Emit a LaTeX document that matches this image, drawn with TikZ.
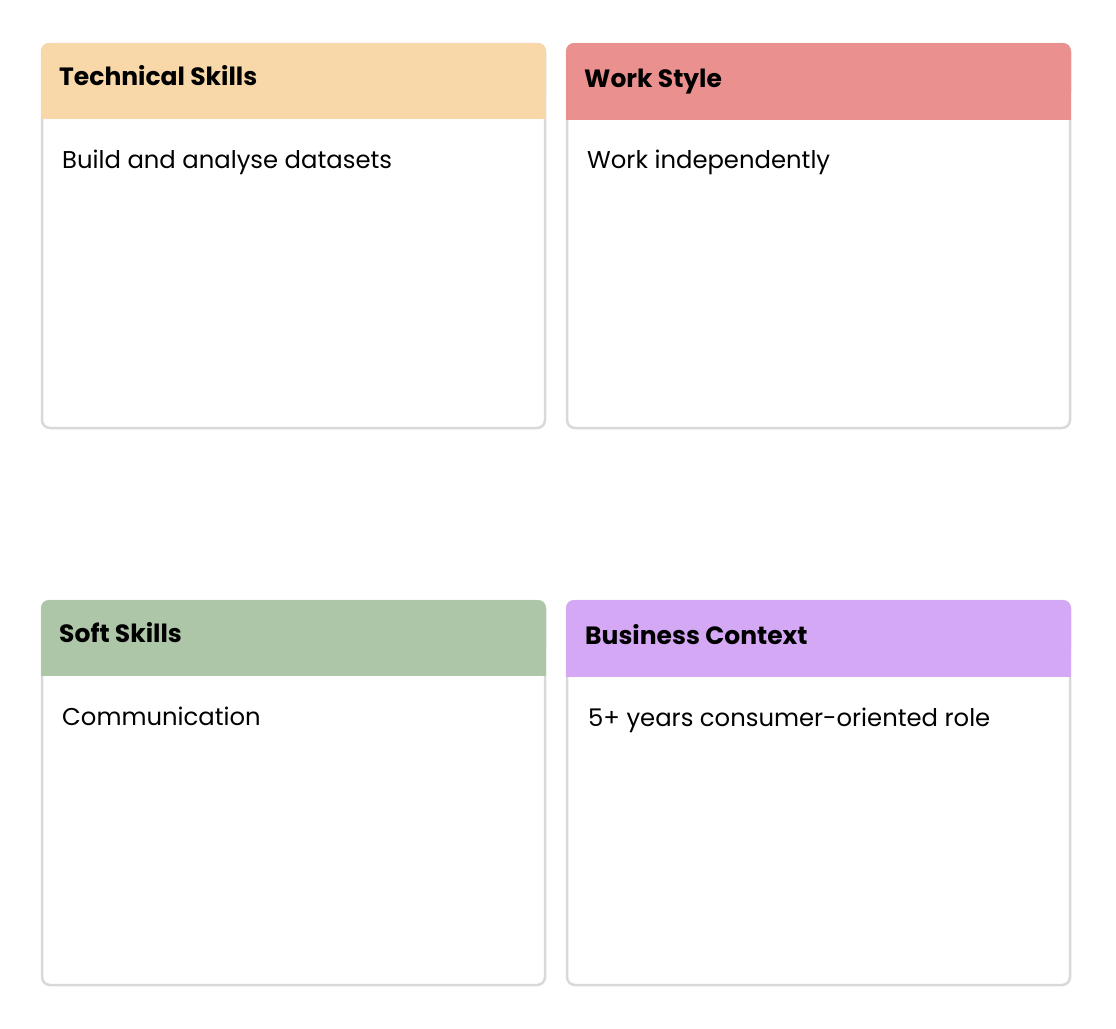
\documentclass[tikz,border=0pt]{standalone}
\usepackage{fontspec}
\setmainfont{Poppins}
\usetikzlibrary{calc}

\definecolor{techcol}{HTML}{F8D7A8}
\definecolor{workcol}{HTML}{EA9190}
\definecolor{softcol}{HTML}{ADC6A8}
\definecolor{busicol}{HTML}{D4A8F5}
\definecolor{edgecol}{HTML}{D9D9D9}

\tikzset{
  cardbox/.style={draw=edgecol, line width=2.5pt, fill=white, rounded corners=8pt},
  headtext/.style={anchor=base west, inner sep=0pt, font=\fontsize{25}{29}\selectfont\bfseries},
  bodytext/.style={anchor=base west, inner sep=0pt, font=\fontsize{24.3}{28}\selectfont},
}

\begin{document}
\begin{tikzpicture}[x=1pt, y=-1pt]
  \useasboundingbox (0,0) rectangle (1116,1028);

  % Cards
  \draw[cardbox] (42,44) rectangle (545,428);
  \draw[cardbox] (567,44) rectangle (1070,428);
  \draw[cardbox] (42,601) rectangle (545,985);
  \draw[cardbox] (567,601) rectangle (1070,985);

  % Headers
  \fill[techcol, rounded corners=8pt] (41,43) rectangle (546,100);
  \fill[techcol] (41,80) rectangle (546,119);
  \fill[workcol, rounded corners=8pt] (566,43) rectangle (1071,100);
  \fill[workcol] (566,80) rectangle (1071,120);
  \fill[softcol, rounded corners=8pt] (41,600) rectangle (546,657);
  \fill[softcol] (41,637) rectangle (546,676);
  \fill[busicol, rounded corners=8pt] (566,600) rectangle (1071,657);
  \fill[busicol] (566,637) rectangle (1071,677);

  % Titles
  \node[headtext] (tech) at (59,85) {Technical Skills};
  \node[headtext] (work) at (584,87) {Work Style};
  \node[headtext] (soft) at (59,642) {Soft Skills};
  \node[headtext] (busi) at (585,644) {Business Context};

  % Items
  \node[bodytext] (techitem) at (62,168) {Build and analyse datasets};
  \node[bodytext] (workitem) at (587,168) {Work independently};
  \node[bodytext] (softitem) at (62,725) {Communication};
  \node[bodytext] (busiitem) at (588,726) {5+ years consumer-oriented role};
\end{tikzpicture}
\end{document}
